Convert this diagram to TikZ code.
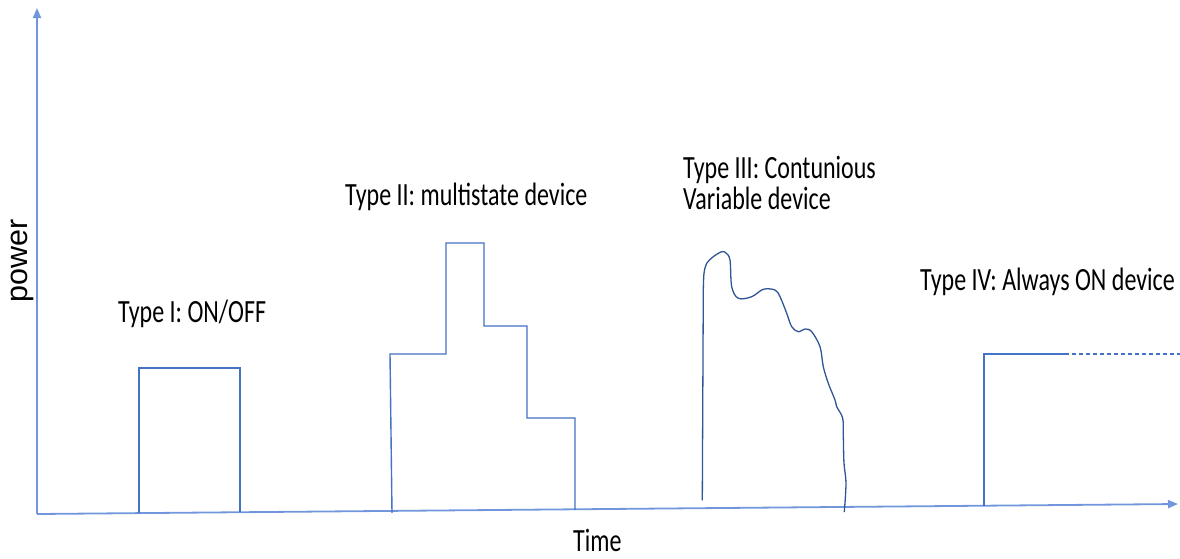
\documentclass[tikz,border=0pt]{standalone}
\usepackage{fontspec}
\setmainfont{Carlito}
\newfontfamily\axisfont{Liberation Sans}
\usetikzlibrary{arrows.meta}
\definecolor{axisblue}{RGB}{114,150,220}
\definecolor{shapeblue}{RGB}{68,114,196}
\definecolor{curveblue}{RGB}{47,85,151}
\tikzset{
  axisline/.style={draw=axisblue, line width=1.8pt, -{Triangle[length=10pt,width=8pt]}},
  signal/.style={draw=shapeblue, line width=1.4pt, line join=miter},
  curvesig/.style={draw=curveblue, line width=1.3pt, line join=round, line cap=round},
  lbl/.style={inner sep=0pt, anchor=base west, font=\fontsize{24}{28}\selectfont},
}
\newcommand{\tall}[1]{\scalebox{1}[1.35]{#1}}
\begin{document}
\begin{tikzpicture}[x=1pt,y=-1pt]
\useasboundingbox (0,0) rectangle (1180,558);
% axes
\coordinate (O) at (37,514);
\coordinate (Ytip) at (37,8);
\coordinate (Xtip) at (1178,504);
\draw[axisline] (O) -- (Ytip);
\draw[axisline] (O) -- (Xtip);
% Type I
\draw[signal] (139,513) -- (139,368) -- (240,368) -- (240,512);
% Type II
\draw[signal] (392,513) -- (390,354) -- (446,354) -- (446,243) -- (484,243) -- (484,326) -- (527,326) -- (527,418) -- (575,418) -- (575,510);
% Type III
\draw[curvesig] (702.3,500) -- (703.3,290)
  plot[smooth, tension=0.55] coordinates {(703.3,290) (704,273.3) (706.7,263.3) (713.3,256.7) (721.7,251.7) (726,253) (730,260) (731.7,286.7) (738.3,298.3) (751.7,296.7) (763.3,289.3) (775,290) (780,296.7) (786.7,313.3) (791.7,326.7) (798.3,331.7) (805,329) (811.7,331.7) (820,346.7) (823.3,366.7) (828.3,383.3) (835,400) (836.7,406.7) (842.7,418.3) (843.3,436.7) (844,463.3) (846,483.3) (844.3,511.7)};
% Type IV
\draw[signal] (984,506) -- (984,354) -- (1065,354);
\draw[signal, line width=1.2pt, dash pattern=on 4pt off 3pt] (1065,354) -- (1180,354);
% labels
\node[inner sep=0pt, rotate=90] (power) at (22,261) {\resizebox{83pt}{!}{\axisfont power}};
\node[lbl] (t1) at (118,322) {\tall{Type I: ON/OFF}};
\node[lbl] (t2) at (345,205) {\tall{Type II: multistate device}};
\node[lbl] (t3a) at (683,178) {\tall{Type III: Contunious}};
\node[lbl] (t3b) at (683,209) {\tall{Variable device}};
\node[lbl] (t4) at (920,290) {\tall{Type IV: Always ON device}};
\node[lbl] (time) at (573,551) {\tall{Time}};
\end{tikzpicture}
\end{document}
